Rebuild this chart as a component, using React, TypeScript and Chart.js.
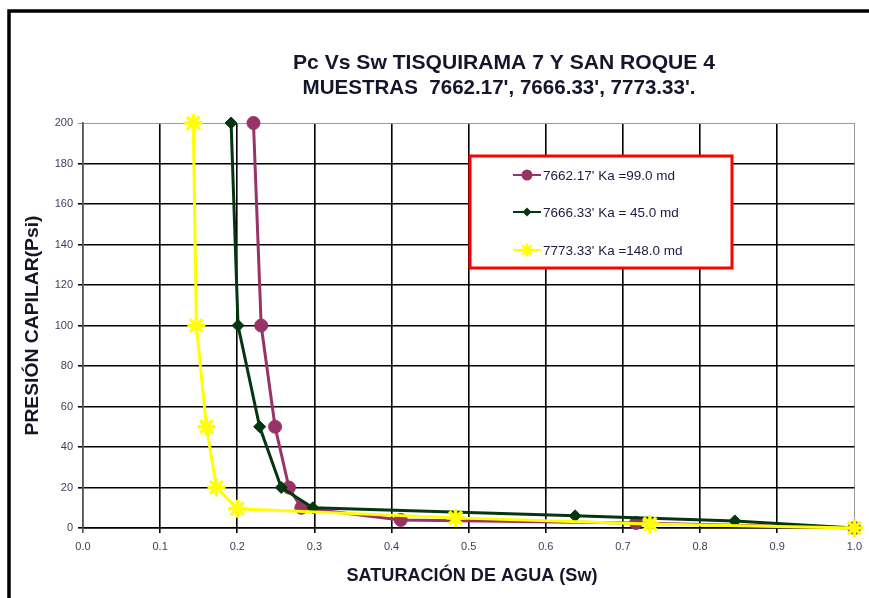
import React, { useEffect, useRef } from "react";
import { Chart, registerables } from "chart.js";

Chart.register(...registerables);

// ---- Data ----
const SW_7662 = [0.221, 0.231, 0.249, 0.267, 0.283, 0.412, 0.717, 1.0];
const PC_7662 = [200, 100, 50, 20, 10, 4, 2.5, 0];

const SW_7666 = [0.192, 0.201, 0.229, 0.257, 0.298, 0.638, 0.845, 1.0];
const PC_7666 = [200, 100, 50, 20, 10, 6, 3.5, 0];

const SW_7773 = [0.143, 0.147, 0.16, 0.173, 0.2, 0.483, 0.735, 1.0];
const PC_7773 = [200, 100, 50, 20, 9.5, 5, 2, 0];

const SERIES_LABELS = [
  "7662.17' Ka =99.0 md",
  "7666.33' Ka = 45.0 md",
  "7773.33' Ka =148.0 md",
];

const TITLE_LINES = [
  "Pc Vs Sw TISQUIRAMA 7 Y SAN ROQUE 4",
  "MUESTRAS  7662.17', 7666.33', 7773.33'.",
];
const X_TITLE = "SATURACIÓN DE AGUA (Sw)";
const Y_TITLE = "PRESIÓN CAPILAR(Psi)";

const X_MIN = 0;
const X_MAX = 1;
const X_STEP = 0.1;
const Y_MIN = 0;
const Y_MAX = 200;
const Y_STEP = 20;

const toPoints = (xs: number[], ys: number[]) => xs.map((x, i) => ({ x, y: ys[i] }));

const PURPLE = "#993366";
const GREEN = "#06360f";
const YELLOW = "#FFFF00";
const TEXT_DARK = "#15152b";
const FONT = "'Liberation Sans', Arial, sans-serif";

function fillFitted(ctx: CanvasRenderingContext2D, text: string, x: number, y: number, width: number) {
  const natural = ctx.measureText(text).width;
  const sx = width / natural;
  ctx.save();
  ctx.translate(x, y);
  ctx.scale(sx, 1);
  ctx.fillText(text, 0, 0);
  ctx.restore();
}

function drawMarker(ctx: CanvasRenderingContext2D, style: string, x: number, y: number, r: number) {
  ctx.beginPath();
  if (style === "circle") {
    ctx.arc(x, y, r, 0, Math.PI * 2);
    ctx.fill();
  } else if (style === "rectRot") {
    ctx.moveTo(x, y - r);
    ctx.lineTo(x + r, y);
    ctx.lineTo(x, y + r);
    ctx.lineTo(x - r, y);
    ctx.closePath();
    ctx.fill();
  } else if (style === "star") {
    const d = r * 0.707;
    ctx.moveTo(x, y - r);
    ctx.lineTo(x, y + r);
    ctx.moveTo(x - r, y);
    ctx.lineTo(x + r, y);
    ctx.moveTo(x - d, y - d);
    ctx.lineTo(x + d, y + d);
    ctx.moveTo(x - d, y + d);
    ctx.lineTo(x + d, y - d);
    ctx.stroke();
  }
}

const decorPlugin = {
  id: "decor",
  beforeDraw(chart: any) {
    const ctx = chart.ctx;
    ctx.save();
    ctx.fillStyle = "#ffffff";
    ctx.fillRect(0, 0, chart.width, chart.height);
    ctx.strokeStyle = "#000";
    ctx.lineWidth = 3.5;
    ctx.strokeRect(9, 11, chart.width + 50, chart.height + 50);
    ctx.restore();
  },
  afterDraw(chart: any) {
    const ctx = chart.ctx;
    const area = chart.chartArea;
    ctx.save();
    ctx.fillStyle = TEXT_DARK;
    ctx.textAlign = "center";
    ctx.textBaseline = "middle";
    ctx.font = `bold 21px ${FONT}`;
    fillFitted(ctx, TITLE_LINES[0], 504, 63, 422);
    fillFitted(ctx, TITLE_LINES[1], 499, 88, 393);

    ctx.font = `bold 18px ${FONT}`;
    fillFitted(ctx, X_TITLE, 472, 576, 251);

    ctx.save();
    ctx.translate(33, (area.top + area.bottom) / 2);
    ctx.rotate(-Math.PI / 2);
    ctx.font = `bold 18px ${FONT}`;
    fillFitted(ctx, Y_TITLE, 0, 0, 220);
    ctx.restore();

    // Legend box
    const bx = 470, by = 156, bw = 262, bh = 112;
    ctx.fillStyle = "#fff";
    ctx.fillRect(bx, by, bw, bh);
    ctx.strokeStyle = "#FF0000";
    ctx.lineWidth = 3;
    ctx.strokeRect(bx, by, bw, bh);

    const rows = [175, 212, 250];
    const datasets = chart.data.datasets;
    datasets.forEach((ds: any, i: number) => {
      const y = rows[i];
      ctx.strokeStyle = ds.borderColor;
      ctx.lineWidth = 2;
      ctx.beginPath();
      ctx.moveTo(513, y);
      ctx.lineTo(541, y);
      ctx.stroke();
      ctx.fillStyle = ds.pointBackgroundColor;
      ctx.strokeStyle = ds.pointBorderColor;
      ctx.lineWidth = ds.pointStyle === "star" ? 2.5 : 1;
      drawMarker(ctx, ds.pointStyle, 527, y, ds.legendRadius);
      ctx.fillStyle = "#1a1a40";
      ctx.textAlign = "left";
      ctx.textBaseline = "middle";
      ctx.font = `13.5px ${FONT}`;
      ctx.fillText(ds.label, 543, y + 1);
    });
    ctx.restore();
  },
};

export default function App() {
  const ref = useRef<HTMLCanvasElement | null>(null);

  useEffect(() => {
    if (!ref.current) return;
    const chart = new Chart(ref.current, {
      type: "scatter",
      data: {
        datasets: [
          {
            label: SERIES_LABELS[0],
            data: toPoints(SW_7662, PC_7662),
            showLine: true,
            clip: false,
            borderColor: PURPLE,
            borderWidth: 3,
            pointStyle: "circle",
            pointRadius: 6.5,
            pointBackgroundColor: PURPLE,
            pointBorderColor: PURPLE,
            pointBorderWidth: 1,
            order: 2,
            legendRadius: 5.5,
          } as any,
          {
            label: SERIES_LABELS[1],
            data: toPoints(SW_7666, PC_7666),
            showLine: true,
            clip: false,
            borderColor: GREEN,
            borderWidth: 3,
            pointStyle: "rectRot",
            pointRadius: 6,
            pointBackgroundColor: GREEN,
            pointBorderColor: GREEN,
            pointBorderWidth: 1,
            order: 1,
            legendRadius: 4.5,
          } as any,
          {
            label: SERIES_LABELS[2],
            data: toPoints(SW_7773, PC_7773),
            showLine: true,
            clip: false,
            borderColor: YELLOW,
            borderWidth: 3,
            pointStyle: "star",
            pointRadius: 9,
            pointBackgroundColor: YELLOW,
            pointBorderColor: YELLOW,
            pointBorderWidth: 3.5,
            order: 0,
            legendRadius: 6.5,
          } as any,
        ],
      },
      options: {
        responsive: false,
        animation: false,
        devicePixelRatio: 1,
        layout: { padding: { top: 123, right: 12, left: 0, bottom: 0 } },
        plugins: {
          legend: { display: false },
          title: { display: false },
          tooltip: { enabled: false },
        },
        scales: {
          x: {
            type: "linear",
            min: X_MIN,
            max: X_MAX,
            afterFit: (s: any) => {
              s.height = 70;
            },
            ticks: {
              stepSize: X_STEP,
              autoSkip: false,
              maxRotation: 0,
              padding: 7,
              color: "#3d3d5c",
              font: { family: FONT, size: 11 },
              callback: (v: any) => Number(v).toFixed(1),
            },
            grid: {
              color: (c: any) =>
                c.tick && Math.abs(c.tick.value - X_MAX) < 1e-6
                  ? "#9a9a9a"
                  : c.tick && Math.abs(c.tick.value - X_MIN) < 1e-6
                  ? "#555"
                  : "#000",
              lineWidth: (c: any) =>
                c.tick && Math.abs(c.tick.value - X_MAX) < 1e-6 ? 1 : 1.6,
              tickLength: 5,
            },
            border: { display: true, color: "#000", width: 1.6 },
          },
          y: {
            type: "linear",
            min: Y_MIN,
            max: Y_MAX,
            afterFit: (s: any) => {
              s.width = 83;
            },
            ticks: {
              stepSize: Y_STEP,
              padding: 5,
              color: "#3d3d5c",
              font: { family: FONT, size: 11 },
            },
            grid: {
              color: (c: any) =>
                c.tick && c.tick.value === Y_MAX ? "#9a9a9a" : "#000",
              lineWidth: (c: any) => (c.tick && c.tick.value === Y_MAX ? 1 : 1.6),
              tickLength: 5,
            },
            border: { display: true, color: "#555", width: 1.6 },
          },
        },
      } as any,
      plugins: [decorPlugin],
    });
    return () => chart.destroy();
  }, []);

  return (
    <div style={{ position: "fixed", left: 0, top: 0, width: 869, height: 598, background: "#fff" }}>
      <canvas ref={ref} width={869} height={598} style={{ display: "block", width: 869, height: 598 }} />
    </div>
  );
}
